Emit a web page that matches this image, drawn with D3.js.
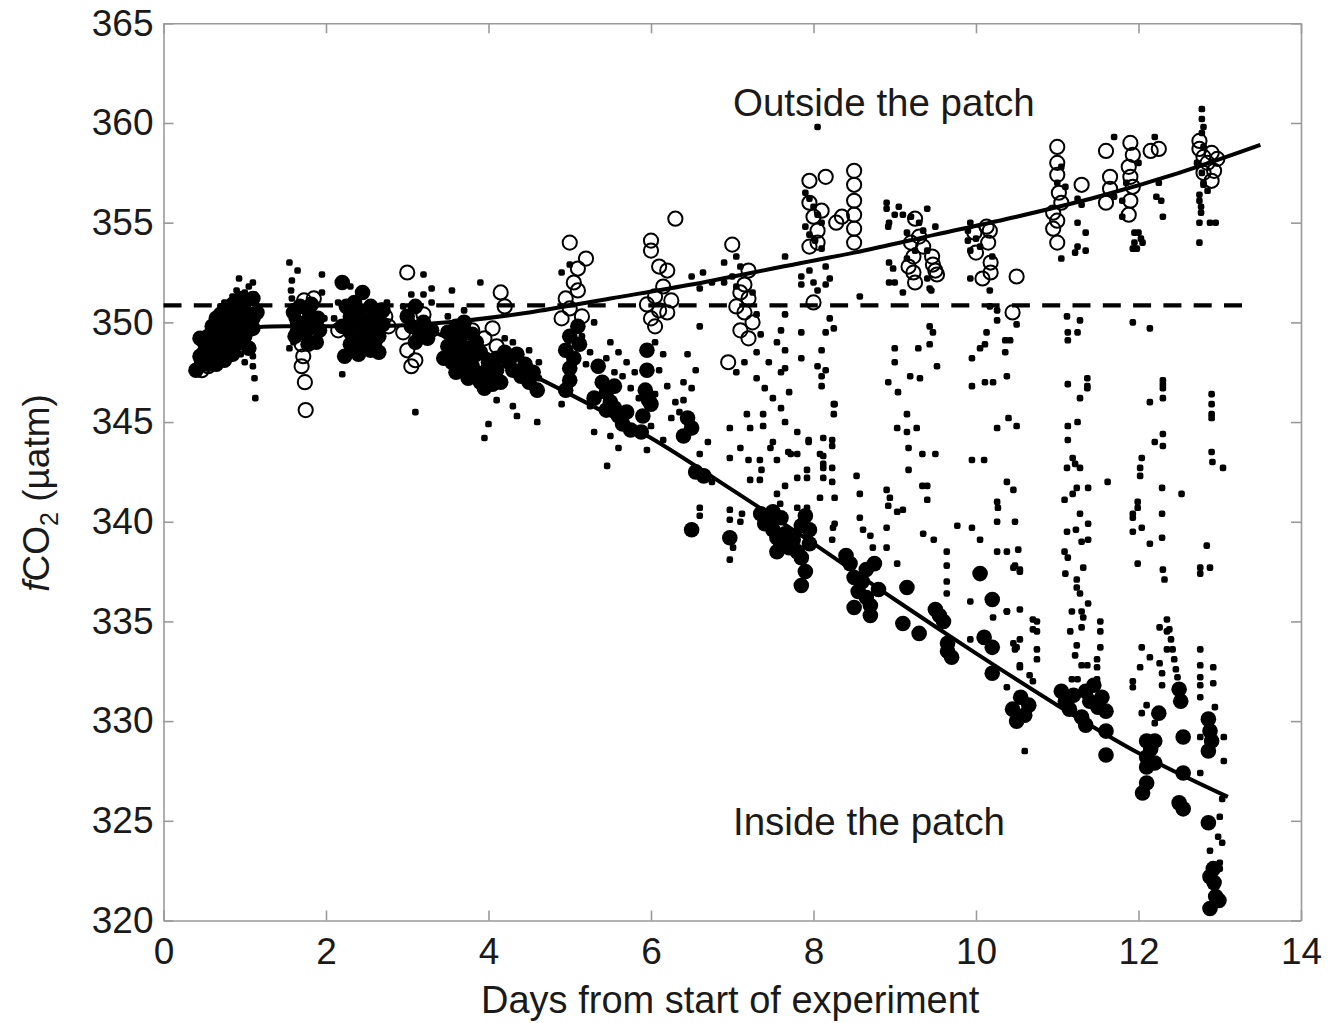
<!DOCTYPE html>
<html>
<head>
<meta charset="utf-8">
<script src="https://cdn.jsdelivr.net/npm/d3@7"></script>
<style>
  body { margin: 0; background: #fff; }
  svg text { font-family: "Liberation Sans", Arial, Helvetica, sans-serif; fill: #1a1a1a; }
</style>
</head>
<body>
<div class="chart"></div>
<script>
//==================================
// Data: [day, fCO2 (uatm)]
//==================================
var xTicks = [0, 2, 4, 6, 8, 10, 12, 14];
var yTicks = [320, 325, 330, 335, 340, 345, 350, 355, 360, 365];

// initial level (dashed) and the two fitted curves
var initialLevel = 350.85;
var initialLevelEnd = 13.38;
var outsideFit = [[0.6,349.6],[1.5,349.8],[2.5,349.8],[3.5,350.0],[4.5,350.5],[5.5,351.2],[6.5,351.9],
  [7.5,352.7],[8.5,353.5],[9.5,354.4],[10.5,355.3],[11.5,356.3],[12.5,357.5],[13.5,358.9]];
var insideFit = [[3.2,349.7],[4.0,348.4],[5.0,346.4],[6.0,344.2],[7.0,341.6],[8.0,338.9],[9.0,336.1],
  [10.0,333.4],[11.0,330.8],[12.0,328.4],[13.1,326.2]];

// open circles: outside the patch
var outsidePts = [
  [0.47,347.6],[0.47,348.1],[0.55,347.8],[0.9,350.6],[1.0,350.0],[1.05,350.9],
  [1.73,351.1],[1.68,350.6],[1.7,348.9],[1.72,348.3],[1.7,347.8],[1.74,347.0],[1.75,345.6],[1.78,350.0],[1.65,349.5],[1.85,351.2],[1.8,349.3],
  [2.73,350.3],[2.77,349.8],[2.68,350.6],[2.15,349.6],
  [3.0,352.5],[3.05,347.8],[3.0,348.6],[3.1,348.1],[2.95,349.5],[3.2,350.4],
  [4.15,351.5],[4.2,350.8],[3.8,349.6],[3.95,349.2],[4.05,349.7],[4.1,348.8],
  [5.0,354.0],[5.1,352.7],[5.05,352.0],[4.95,351.2],[5.0,350.7],[5.15,350.3],[5.1,351.6],[4.9,350.2],[5.2,353.2],
  [6.0,354.1],[6.0,353.6],[6.1,352.8],[6.2,352.6],[6.05,351.3],[6.1,350.6],[6.0,350.2],[6.2,350.5],[6.05,349.8],[5.95,350.9],[6.3,355.2],[6.15,351.8],[6.25,351.1],
  [7.0,353.9],[7.2,352.6],[7.15,351.9],[7.2,351.2],[7.15,350.5],[7.1,349.6],[6.95,348.0],[7.2,349.2],[7.05,350.8],[7.25,350.0],[7.1,351.5],
  [7.95,357.1],[8.15,357.3],[8.28,355.0],[8.35,355.3],[7.95,356.0],[8.0,355.3],[8.05,354.6],[7.95,353.8],[8.0,351.0],[8.05,354.0],[8.1,355.6],
  [8.5,357.6],[8.5,356.9],[8.5,356.1],[8.5,355.4],[8.5,354.7],[8.5,354.0],
  [9.25,355.2],[9.23,353.3],[9.17,352.8],[9.23,352.5],[9.25,352.0],[9.46,353.3],[9.47,352.9],[9.5,352.6],[9.52,352.4],[9.3,354.3],[9.35,353.8],[9.2,354.0],
  [9.98,354.5],[10.0,353.5],[10.13,354.8],[10.17,354.6],[10.15,354.0],[10.18,353.0],[10.18,352.5],[10.08,352.2],[10.5,352.3],[10.45,350.5],
  [11.0,358.8],[11.0,358.0],[11.0,357.4],[10.95,355.5],[10.95,354.7],[11.0,354.0],[11.3,356.9],[11.02,356.5],[11.05,356.0],[11.0,355.1],
  [11.6,358.6],[11.65,357.3],[11.65,356.7],[11.6,356.0],
  [11.9,359.0],[11.93,358.4],[11.88,357.8],[11.9,357.3],[11.93,356.8],[11.9,356.1],[11.88,355.4],
  [12.15,358.6],[12.25,358.7],
  [12.75,359.1],[12.8,358.3],[12.9,358.5],[12.93,357.6],[12.8,357.5],[12.9,357.1],[12.85,358.0],[12.75,358.7],[12.97,358.2]
];

// filled circles: inside the patch
var insidePts = [
  [0.5,348.0],[0.5,348.5],[0.5,349.0],[0.45,348.3],[0.55,348.8],[0.55,347.9],[0.55,349.3],[0.6,348.6],[0.6,349.1],[0.6,348.2],
  [0.7,349.5],[0.7,350.0],[0.7,349.0],[0.7,348.5],[0.7,350.4],[0.8,349.8],[0.8,350.3],[0.8,349.2],[0.8,348.7],[0.8,350.7],
  [0.9,350.0],[0.9,349.4],[0.9,350.5],[0.9,348.9],[1.0,349.9],[1.0,350.6],[1.0,349.3],[1.0,351.0],[1.1,350.2],[1.1,349.7],[1.1,351.2],
  [0.4,347.6],[0.45,349.2],[0.65,347.9],[0.75,348.1],[0.85,348.4],[0.95,349.1],[1.05,348.7],[0.65,350.2],[0.85,350.9],[0.95,351.2],
  [1.15,350.5],[0.6,349.8],[0.75,349.4],[1.05,350.2],
  [1.6,350.5],[1.65,350.0],[1.7,349.8],[1.75,349.5],[1.8,350.4],[1.85,349.9],[1.9,350.2],[1.62,349.3],[1.78,348.9],[1.88,349.0],
  [1.68,350.8],[1.82,350.9],[1.92,349.6],
  [2.2,352.0],[2.45,351.5],[2.25,350.8],[2.3,350.3],[2.35,349.9],[2.4,350.5],[2.3,349.5],[2.4,349.2],[2.5,349.6],[2.5,350.1],
  [2.6,349.8],[2.6,350.3],[2.7,349.9],[2.35,348.7],[2.23,348.3],[2.55,348.6],[2.65,349.3],[2.2,349.8],[2.45,348.9],
  [2.3,348.9],[2.4,348.4],[2.5,348.9],[2.6,349.0],[2.7,350.6],[2.55,350.8],[2.35,351.0],[2.65,348.5],
  [3.0,350.3],[3.05,349.8],[3.1,350.8],[3.15,349.5],[3.2,350.0],[3.25,349.2],[3.1,349.0],[3.3,349.6],
  [3.5,349.5],[3.55,349.0],[3.6,348.6],[3.65,349.2],[3.7,348.2],[3.75,348.7],[3.8,347.8],[3.85,347.3],[3.9,347.0],[3.95,347.5],
  [4.0,347.2],[4.05,346.9],[3.6,349.8],[3.7,350.0],[3.8,349.4],[3.9,348.5],[4.0,348.0],[3.45,348.2],[3.65,347.7],[3.75,347.2],
  [3.55,348.0],[3.85,348.4],[3.95,346.7],[4.1,347.6],[4.15,347.0],[3.7,349.6],[3.85,349.0],[4.1,348.2],[3.5,348.8],[3.6,347.5],
  [4.2,348.5],[4.25,348.0],[4.3,347.6],[4.4,347.3],[4.5,347.0],[4.6,346.6],[4.35,348.4],[4.45,347.9],[4.55,347.5],
  [5.0,349.3],[4.95,348.6],[5.05,348.2],[5.0,347.7],[5.0,347.1],[4.95,346.6],[5.1,349.8],[5.12,348.9],
  [5.35,347.8],[5.4,347.0],[5.45,346.5],[5.5,346.0],[5.55,345.7],[5.6,345.3],[5.65,344.9],[5.7,345.5],[5.45,345.6],[5.3,346.2],[5.55,346.8],[5.75,344.6],
  [5.95,348.6],[5.95,347.6],[5.93,346.6],[5.9,345.3],[5.88,344.5],[6.0,345.9],[5.97,346.1],
  [6.45,345.2],[6.5,344.7],[6.4,344.3],[6.55,342.5],[6.65,342.3],[6.5,339.6],[6.97,339.2],
  [7.35,340.4],[7.45,340.1],[7.5,339.6],[7.55,339.2],[7.6,338.9],[7.65,339.4],[7.7,338.7],[7.75,339.1],[7.8,338.5],[7.85,339.8],
  [7.9,340.3],[7.95,339.6],[7.85,338.2],[7.5,340.5],[7.4,339.9],[7.6,340.2],[7.9,337.5],[7.85,336.8],[7.55,338.5],[7.95,338.9],
  [8.45,337.9],[8.5,337.2],[8.55,336.5],[8.6,337.0],[8.65,336.2],[8.7,335.8],[8.5,335.7],[8.75,337.9],[8.8,336.6],[8.65,337.6],[8.7,335.3],[8.4,338.3],
  [9.1,334.9],[9.3,334.4],[9.15,336.7],[9.6,335.0],[9.5,335.6],[9.65,333.5],[9.7,333.2],[9.65,333.9],[10.05,337.4],[10.2,336.1],
  [10.1,334.2],[10.2,333.7],[10.2,332.4],[9.55,335.3],
  [10.45,330.6],[10.55,331.2],[10.6,330.3],[10.65,330.8],[10.5,330.0],
  [11.05,331.5],[11.1,331.0],[11.15,330.6],[11.35,331.5],[11.4,331.0],[11.45,331.8],[11.35,329.8],[11.5,330.7],[11.6,330.5],
  [11.6,329.5],[11.6,328.3],[11.3,330.2],[11.2,331.3],[11.55,331.2],
  [12.1,329.0],[12.2,329.0],[12.1,328.2],[12.1,327.7],[12.1,326.9],[12.05,326.4],[12.25,330.4],[12.2,327.9],[12.55,329.2],
  [12.55,327.4],[12.5,325.9],[12.55,325.6],[12.15,328.6],[12.5,331.6],[12.52,331.0],
  [12.86,330.1],[12.88,329.5],[12.86,328.5],[12.86,324.9],[12.88,322.2],[12.93,321.9],[12.95,321.2],[12.88,320.6],[12.99,321.0],[12.9,329.0],[12.92,322.6]
];

// small dots: continuous underway record
var underwayPts = [
  [0.45,348.5],[0.5,349.2],[0.55,349.5],[0.6,349.7],[0.65,349.9],[0.7,350.8],[0.75,351.0],[0.85,351.3],[0.9,351.6],[0.93,352.2],
  [1.0,351.5],[1.05,351.8],[1.1,352.0],[1.12,351.4],[1.15,350.8],[1.1,348.3],[1.1,347.8],[1.12,347.2],[1.13,346.2],[1.0,348.0],[0.95,348.4],
  [1.55,353.0],[1.65,352.6],[1.58,352.1],[1.57,351.6],[1.58,351.2],[1.6,350.8],[1.58,350.2],[1.6,349.6],[1.95,352.4],[1.95,351.5],
  [1.98,350.2],[1.6,349.0],[1.55,348.7],
  [2.2,347.4],[2.1,350.2],[2.15,351.0],[2.3,351.8],[2.75,351.0],
  [3.2,352.4],[3.3,351.7],[3.05,351.4],[3.2,351.4],[3.55,351.6],[3.1,345.5],[2.95,350.8],[3.3,351.0],
  [3.9,352.0],[4.1,346.1],[4.0,344.9],[3.95,344.2],[4.35,345.3],[4.6,345.0],[4.3,345.8],[3.7,350.6],[3.5,350.3],
  [4.2,349.2],[4.3,349.0],[4.5,348.6],[4.62,348.0],[4.62,347.2],
  [5.15,349.3],[5.25,348.5],[5.3,350.0],[5.2,347.9],[5.35,347.6],[4.9,352.5],[5.0,352.9],[4.9,345.9],[5.25,345.8],
  [5.5,349.0],[5.6,348.5],[5.45,348.2],[5.7,348.0],[5.8,347.5],[5.75,346.7],[5.55,347.5],[5.65,347.3],[5.85,346.2],[5.5,344.3],
  [5.3,344.5],[5.6,343.7],[5.46,342.8],[5.95,343.6],
  [6.05,349.0],[6.15,348.4],[6.1,347.6],[6.2,346.8],[6.05,346.4],[6.3,346.0],[6.25,345.2],[6.0,344.8],[6.15,344.1],[6.4,347.0],
  [6.5,346.7],[6.4,346.1],[6.55,347.6],[6.45,348.4],[6.6,349.8],[6.6,351.7],[6.35,345.5],[6.7,344.0],[6.75,342.0],[6.6,343.4],[6.5,352.3],
  [6.64,352.5],[6.9,353.0],[6.9,352.0],[6.6,340.7],[6.6,340.3],
  [7.0,352.3],[7.05,351.8],[7.1,352.8],[7.25,351.5],[7.3,350.4],[7.3,348.5],[7.15,348.0],[7.3,347.2],[7.4,346.7],[7.5,346.2],
  [7.05,347.5],[7.35,349.4],[7.45,348.0],[6.75,352.0],[7.05,353.3],
  [7.55,349.0],[7.65,347.7],[7.7,346.5],[7.6,345.7],[7.85,348.2],[7.5,344.0],
  [7.65,353.3],[7.85,352.3],[8.15,351.9],[7.85,351.9],[7.65,350.4],[7.85,349.5],[7.6,349.6],[7.65,348.6],[7.6,347.5],[8.05,347.8],
  [8.1,347.3],[8.25,349.7],[8.25,345.9],[8.25,345.4],[8.23,344.1],[8.08,343.4],[8.12,342.9],[7.94,344.0],[7.8,344.5],[7.72,343.4],
  [7.47,343.7],[7.22,344.7],
  [6.97,344.7],[7.18,345.4],[7.38,345.4],[7.38,344.8],[7.1,343.7],[6.97,343.2],[7.2,343.1],[7.34,343.1],[7.22,342.1],[7.34,342.1],
  [7.36,342.6],[7.55,343.1],[7.65,345.0],[7.94,344.1],[8.12,344.2],[8.23,343.8],[8.26,345.9],[7.69,343.5],[7.8,343.4],[7.8,342.2],
  [7.92,342.6],[7.92,342.2],[8.12,343.3],[8.12,342.7],[8.12,342.2],[8.23,342.7],[8.23,342.0],[8.26,341.2],[7.55,341.4],[7.65,341.8],
  [7.59,340.9],[7.8,340.7],[7.92,340.7],[8.08,341.2],[8.26,339.9],[8.23,339.1],[8.24,339.7],[6.97,340.6],[7.12,340.4],[6.97,340.1],
  [7.1,340.0],[7.01,338.7],[6.97,338.1],
  [8.05,359.8],[7.9,356.5],[7.95,356.2],[8.0,355.8],[8.05,355.4],[8.1,355.0],[7.9,354.8],[7.95,354.4],[8.02,354.1],[8.1,353.7],
  [8.15,352.8],[8.2,352.2],[7.95,352.6],[8.0,352.0],[8.05,351.6],[8.2,350.2],[8.15,349.5],[8.1,348.6],[8.15,347.6],[8.1,346.8],
  [8.53,342.3],[8.57,341.4],[8.57,340.2],[8.61,339.6],[8.7,339.3],[8.73,338.7],[8.9,341.6],[8.94,341.2],[8.92,340.8],[9.03,340.5],
  [9.1,340.6],[8.9,339.7],[8.9,338.7],[9.03,337.9],[9.15,345.4],[9.15,344.5],[9.27,344.7],[9.03,344.7],[9.17,343.7],[9.17,342.6],
  [9.34,343.4],[9.5,343.4],[9.34,341.8],[9.4,341.8],[9.4,341.1],[9.35,339.4],[9.48,339.1],[9.64,338.5],[9.64,337.8],[9.64,337.0],
  [9.64,336.4],[9.77,339.8],[9.95,339.7],[10.05,339.1],[9.95,343.1],[10.1,343.1],[10.26,344.7],[10.4,345.2],[10.5,344.8],[10.38,342.0],
  [10.46,341.6],[10.26,341.0],[10.27,340.7],[10.26,340.0],[10.48,340.0],[10.26,338.5],[10.38,338.5],[10.52,338.6],[10.48,337.8],[10.54,337.5],
  [9.93,336.0],[10.21,335.2],[10.38,335.5],[10.54,335.6],[9.93,334.1],[10.75,335.0],[10.75,334.5],[10.54,334.1],[10.5,333.7],[10.75,333.6],
  [10.54,332.8],[10.66,332.3],
  [8.9,356.0],[8.9,355.7],[8.93,355.0],[9.0,355.4],[8.92,354.8],[8.93,353.0],[8.98,352.7],[8.93,352.0],[9.0,352.0],[9.1,351.5],
  [9.4,355.7],[9.43,351.7],[8.57,351.3],[9.15,354.5],[9.2,355.3],[9.3,355.0],[9.35,354.6],[9.4,353.6],[9.25,353.6],[9.15,353.2],
  [9.4,352.2],[9.45,351.6],[9.05,355.8],[9.1,355.4],[9.5,354.8],
  [9.93,355.0],[9.9,354.6],[9.9,354.1],[9.93,353.6],[9.93,352.2],[10.2,353.3],[10.17,351.6],[10.05,353.8],[10.0,354.2],
  [11.25,356.2],[11.3,355.9],[11.35,354.5],[11.25,355.0],[11.35,353.6],[11.25,353.8],[11.22,353.5],[11.05,353.2],[11.1,356.8],[11.05,357.8],
  [11.0,357.0],[11.7,359.3],[11.7,356.3],[11.8,356.1],[11.8,355.3],[11.95,354.5],[11.95,354.0],[11.93,353.7],[11.85,357.0],[12.0,358.0],
  [12.78,360.7],[12.78,360.2],[12.8,359.8],[12.78,359.5],[12.75,356.4],[12.75,356.1],[12.77,355.8],[12.77,355.5],[12.75,355.0],[12.88,355.0],
  [12.95,355.0],[12.75,354.0],[12.8,357.0],[12.85,356.6],[12.8,358.8],[12.72,358.0],[12.2,359.3],[12.22,356.3],[12.28,356.1],[12.3,355.3],
  [12.0,354.5],[12.03,354.2],[12.05,354.0],[11.98,353.7],[12.25,357.0],[12.78,357.5],[12.8,356.9],
  [9.43,349.8],[9.47,349.5],[9.43,348.9],[9.29,348.7],[9.31,347.2],[9.19,347.3],[9.0,348.7],[9.0,348.0],[8.92,347.0],[9.04,346.5],
  [9.52,347.8],[9.95,348.2],[10.05,348.7],[10.13,349.5],[10.11,348.9],[10.17,350.8],[10.26,350.6],[10.26,350.1],[10.36,349.1],[10.36,348.5],
  [10.38,347.3],[10.21,347.0],[10.11,347.0],[9.95,346.8],[10.5,349.9],[10.42,349.1],[11.12,350.3],[11.28,350.1],[11.13,349.5],[11.25,349.5],
  [11.13,349.1],[11.13,346.9],[11.37,347.2],[11.37,346.8],[11.93,350.0],[12.14,349.7],[12.3,347.1],[12.3,346.7],[11.28,346.2],
  [11.37,346.7],[11.13,344.8],[11.25,345.0],[11.13,344.1],[11.19,343.2],[11.22,342.9],[11.12,342.7],[11.28,342.7],[11.62,342.0],[11.24,341.7],
  [11.19,341.4],[11.38,341.7],[11.09,341.1],[11.28,340.4],[11.38,339.9],[11.12,339.5],[11.23,339.6],[11.3,339.0],[11.38,339.1],[11.09,338.5],
  [11.13,338.2],[12.14,346.0],[12.3,346.9],[12.3,346.2],[12.2,344.0],[12.3,344.4],[12.3,343.8],[12.04,343.2],[12.02,342.7],[12.02,342.3],
  [12.29,341.7],[12.53,341.4],[11.99,341.0],[11.99,340.7],[11.93,340.4],[11.93,340.2],[12.29,340.4],[12.04,339.7],[11.93,339.5],[12.29,339.2],
  [12.14,338.9],[12.84,338.8],[12.9,346.4],[12.9,345.9],[12.9,345.4],[12.9,345.2],[12.9,343.5],[12.91,343.0],[13.04,342.7],
  [10.46,337.7],[10.54,337.6],[10.38,335.5],[10.46,333.9],[10.48,333.6],[10.54,332.7],[10.38,331.7],[10.7,335.1],[10.7,334.6],[10.75,333.1],
  [10.7,332.0],[10.6,328.5],[11.1,337.4],[11.24,337.1],[11.24,336.7],[11.28,336.4],[11.38,335.9],[11.18,335.5],[11.3,335.5],[11.32,335.2],
  [11.16,334.5],[11.3,334.7],[11.24,333.8],[11.22,333.3],[11.3,332.8],[11.37,332.8],[11.18,332.1],[11.25,332.1],[11.49,332.1],[11.53,335.0],
  [11.53,334.5],[11.53,333.7],[11.49,333.1],[11.49,332.7],[11.32,337.7],
  [11.99,337.9],[12.3,337.6],[12.32,337.1],[12.35,335.1],[12.26,334.7],[12.35,334.5],[12.04,333.7],[12.14,333.2],[12.02,332.7],[12.26,332.9],
  [12.29,332.4],[12.29,331.8],[11.93,332.0],[11.93,331.7],[12.1,330.8],[12.04,330.4],[12.2,329.9],[12.35,333.6],[12.38,334.6],[12.4,334.1],
  [12.42,333.6],[12.44,333.1],[12.46,332.6],[12.48,332.2],
  [12.76,337.7],[12.88,337.7],[12.76,337.4],[12.76,333.6],[12.76,332.8],[12.76,332.2],[12.76,331.8],[12.76,331.2],[12.92,332.7],[12.92,331.9],
  [12.94,330.7],[12.76,329.2],[13.05,329.2],[13.05,328.0],[12.76,327.4],[13.03,326.1],[13.0,325.2],[12.98,324.2],[13.03,323.9],[12.88,323.5],
  [13.0,322.9],[13.0,322.6]
];

//==================================
// Set up our chart
//==================================
var svgWidth = 1342;
var svgHeight = 1023;
var plot = { left: 163.5, right: 1301, top: 23.3, bottom: 920.5 };

var svg = d3.select(".chart")
  .append("svg")
  .attr("width", svgWidth)
  .attr("height", svgHeight);

var xScale = d3.scaleLinear().domain([0, 14]).range([plot.left, plot.right]);
var yScale = d3.scaleLinear().domain([320, 365]).range([plot.bottom, plot.top]);

var axisColor = "#9a9a9a";
var tickLen = 10;
var fontSize = 37;

// axes: ticks point into the plot, mirrored on top and right
var bottomAxis = d3.axisBottom(xScale).tickValues(xTicks).tickSize(-tickLen).tickPadding(17).tickSizeOuter(0);
var topAxis = d3.axisTop(xScale).tickValues(xTicks).tickSize(-tickLen).tickFormat("").tickSizeOuter(0);
var leftAxis = d3.axisLeft(yScale).tickValues(yTicks).tickSize(-tickLen).tickPadding(10).tickSizeOuter(0);
var rightAxis = d3.axisRight(yScale).tickValues(yTicks).tickSize(-tickLen).tickFormat("").tickSizeOuter(0);

function styleAxis(g) {
  g.select(".domain").attr("stroke", axisColor).attr("stroke-width", 1.6);
  g.selectAll(".tick line").attr("stroke", axisColor).attr("stroke-width", 1.6);
  g.selectAll(".tick text")
    .attr("font-size", fontSize)
    .attr("font-family", "Liberation Sans, Arial, sans-serif")
    .attr("fill", "#1a1a1a");
}

svg.append("g").attr("class", "x-axis").attr("transform", "translate(0," + plot.bottom + ")").call(bottomAxis).call(styleAxis);
svg.append("g").attr("transform", "translate(0," + plot.top + ")").call(topAxis).call(styleAxis);
svg.append("g").attr("transform", "translate(" + plot.left + ",0)").call(leftAxis).call(styleAxis);
svg.append("g").attr("transform", "translate(" + plot.right + ",0)").call(rightAxis).call(styleAxis);

svg.select(".x-axis").selectAll(".tick text").attr("dy", "0.72em");

// scatter: underway dots, then inside, then outside circles
var marks = svg.append("g");

marks.selectAll(".dot")
  .data(underwayPts)
  .enter()
  .append("rect")
  .attr("class", "dot")
  .attr("x", function(d) { return xScale(d[0]) - 3.3; })
  .attr("y", function(d) { return yScale(d[1]) - 3.3; })
  .attr("width", 6.6)
  .attr("height", 6.6)
  .attr("rx", 2.2)
  .attr("fill", "#000");

marks.selectAll(".inside")
  .data(insidePts)
  .enter()
  .append("circle")
  .attr("class", "inside")
  .attr("cx", function(d) { return xScale(d[0]); })
  .attr("cy", function(d) { return yScale(d[1]); })
  .attr("r", 7.8)
  .attr("fill", "#000");

marks.selectAll(".outside")
  .data(outsidePts)
  .enter()
  .append("circle")
  .attr("class", "outside")
  .attr("cx", function(d) { return xScale(d[0]); })
  .attr("cy", function(d) { return yScale(d[1]); })
  .attr("r", 7.1)
  .attr("fill", "none")
  .attr("stroke", "#000")
  .attr("stroke-width", 2);

// dashed initial level
svg.append("line")
  .attr("x1", xScale(0))
  .attr("x2", xScale(initialLevelEnd))
  .attr("y1", yScale(initialLevel))
  .attr("y2", yScale(initialLevel))
  .attr("stroke", "#000")
  .attr("stroke-width", 4.2)
  .attr("stroke-dasharray", "18,12.3");

// fitted curves
var line = d3.line()
  .x(function(d) { return xScale(d[0]); })
  .y(function(d) { return yScale(d[1]); })
  .curve(d3.curveMonotoneX);

[outsideFit, insideFit].forEach(function(fit) {
  svg.append("path")
    .attr("d", line(fit))
    .attr("fill", "none")
    .attr("stroke", "#000")
    .attr("stroke-width", 4);
});

// annotations
svg.append("text")
  .attr("x", 733)
  .attr("y", 116)
  .attr("font-size", 38.5)
  .text("Outside the patch");

svg.append("text")
  .attr("x", 733)
  .attr("y", 835)
  .attr("font-size", 38.5)
  .text("Inside the patch");

// axis labels
svg.append("text")
  .attr("x", (plot.left + plot.right) / 2 - 2)
  .attr("y", 1013)
  .attr("text-anchor", "middle")
  .attr("font-size", 38)
  .text("Days from start of experiment");

var yLabel = svg.append("text")
  .attr("transform", "translate(49,493) rotate(-90)")
  .attr("text-anchor", "middle")
  .attr("font-size", 37);
yLabel.append("tspan").attr("font-style", "italic").text("f");
yLabel.append("tspan").text("CO");
yLabel.append("tspan").attr("font-size", 25).attr("dy", 9).text("2");
yLabel.append("tspan").attr("dy", -9).text(" (\u00b5atm)");
</script>
</body>
</html>
